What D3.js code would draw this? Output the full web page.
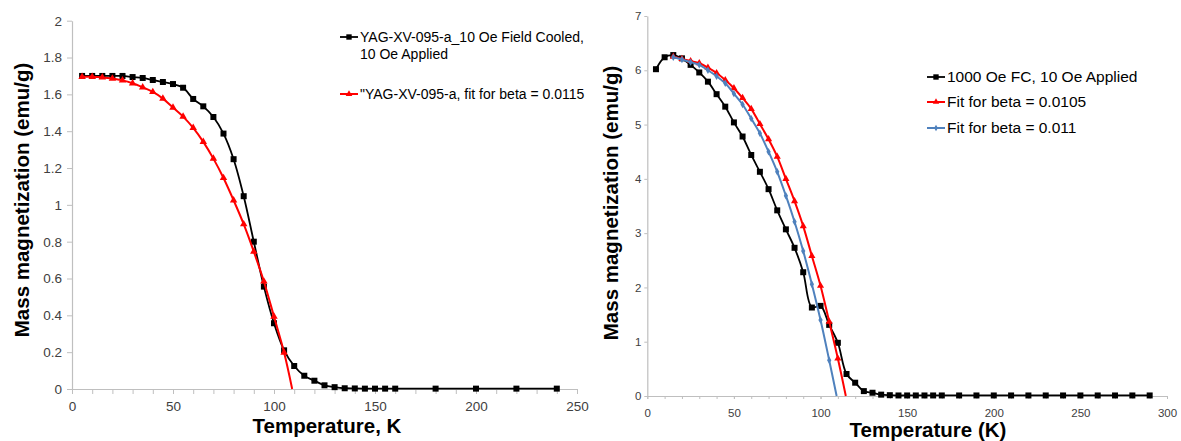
<!DOCTYPE html>
<html>
<head>
<meta charset="utf-8">
<script src="https://cdn.jsdelivr.net/npm/d3@7"></script>
<style>
  body { margin: 0; background: #fff; }
  svg { font-family: "Liberation Sans", Arial, sans-serif; }
</style>
</head>
<body>
<svg id="chart" width="1181" height="441"></svg>
<script>
// 左のグラフ：10 Oe FC の測定値
const leftTemps = [5, 10, 15, 20, 25, 30, 35, 40, 45, 50, 55, 60, 65, 70, 75, 80, 85, 90, 95, 100,
  105, 110, 115, 120, 125, 130, 135, 140, 145, 150, 155, 160, 180, 200, 220, 240];
const leftMeasured = [1.70, 1.70, 1.70, 1.70, 1.70, 1.694, 1.689, 1.678, 1.667, 1.656, 1.636, 1.575, 1.535, 1.477, 1.387, 1.248, 1.047, 0.80, 0.556, 0.357,
  0.21, 0.125, 0.072, 0.045, 0.02, 0.01, 0.004, 0.003, 0.002, 0.002, 0.002, 0.002, 0.002, 0.002, 0.002, 0.002];

// 左のグラフ：フィット (beta = 0.0115)
const leftFitTemps = [5, 10, 15, 20, 25, 30, 35, 40, 45, 50, 55, 60, 65, 70, 75, 80, 85, 90, 95, 100, 105];
const leftFit = [1.695, 1.695, 1.692, 1.686, 1.676, 1.66, 1.638, 1.613, 1.577, 1.528, 1.479, 1.418, 1.342, 1.251, 1.146, 1.025, 0.895, 0.746, 0.584, 0.393, 0.198];
const leftFitEnd = [109, 0];

// 右のグラフ：1000 Oe FC の測定値
const rightTemps = [5, 10, 15, 20, 25, 30, 35, 40, 45, 50, 55, 60, 65, 70, 75, 80, 85, 90, 95, 100,
  105, 110, 115, 120, 125, 130, 135, 140, 145, 150, 155, 160, 165, 170,
  180, 190, 200, 210, 220, 230, 240, 250, 260, 270, 280, 290];
const rightMeasured = [6.02, 6.24, 6.28, 6.22, 6.10, 5.96, 5.79, 5.56, 5.33, 5.04, 4.78, 4.44, 4.13, 3.81, 3.42, 3.07, 2.73, 2.28, 1.63, 1.66,
  1.31, 0.98, 0.405, 0.245, 0.09, 0.06, 0.025, 0.015, 0.01, 0.01, 0.01, 0.01, 0.01, 0.01,
  0.01, 0.01, 0.01, 0.01, 0.01, 0.01, 0.01, 0.01, 0.01, 0.01, 0.01, 0.01];

// 右のグラフ：フィット
const redFitTemps = [15, 20, 25, 30, 35, 40, 45, 50, 55, 60, 65, 70, 75, 80, 85, 90, 95, 100, 105, 110];
const redFit = [6.25, 6.21, 6.17, 6.13, 6.05, 5.95, 5.82, 5.67, 5.49, 5.29, 5.01, 4.73, 4.41, 4.00, 3.59, 3.13, 2.58, 2.03, 1.37, 0.69];
const redFitEnd = [114.6, 0];
const blueFitTemps = [15, 20, 25, 30, 35, 40, 45, 50, 55, 60, 65, 70, 75, 80, 85, 90, 95, 100, 105];
const blueFit = [6.24, 6.20, 6.15, 6.10, 6.00, 5.89, 5.76, 5.57, 5.37, 5.11, 4.84, 4.50, 4.13, 3.69, 3.21, 2.67, 2.06, 1.40, 0.66];
const blueFitEnd = [109.3, 0];

// 軸の目盛り
const leftYTicks = [0, 0.2, 0.4, 0.6, 0.8, 1, 1.2, 1.4, 1.6, 1.8, 2];
const leftXTicks = [0, 50, 100, 150, 200, 250];
const rightYTicks = [0, 1, 2, 3, 4, 5, 6, 7];
const rightXTicks = [0, 50, 100, 150, 200, 250, 300];
const minorStep = 10;

const svg = d3.select("#chart");
const axisColor = "#bfbfbf";

function zip(xs, ys) { return xs.map((x, i) => [x, ys[i]]); }

function drawPanel(opt) {
  const x = d3.scaleLinear().domain(opt.xDomain).range([opt.x0, opt.x1]);
  const y = d3.scaleLinear().domain(opt.yDomain).range([opt.y0, opt.y1]);
  const g = svg.append("g");

  // 副目盛り
  const minor = d3.range(opt.xDomain[0], opt.xDomain[1] + 0.01, minorStep);
  g.append("g")
    .attr("transform", `translate(0,${opt.y0})`)
    .call(d3.axisBottom(x).tickValues(minor).tickSize(opt.tick).tickFormat(""))
    .call(a => a.select(".domain").remove())
    .call(a => a.selectAll("line").attr("stroke", axisColor));

  // X軸
  g.append("g")
    .attr("transform", `translate(0,${opt.y0})`)
    .call(d3.axisBottom(x).tickValues(opt.xTicks).tickSize(opt.tick).tickSizeOuter(0).tickPadding(opt.xPad).tickFormat(d3.format("d")))
    .call(a => a.select(".domain").attr("stroke", axisColor).attr("stroke-width", 1.2))
    .call(a => a.selectAll("line").attr("stroke", axisColor))
    .call(a => a.selectAll("text").attr("fill", opt.labelColor).style("font-size", opt.tickFont + "px").style("font-family", "Liberation Sans, Arial"));

  // Y軸
  g.append("g")
    .attr("transform", `translate(${opt.x0},0)`)
    .call(d3.axisLeft(y).tickValues(opt.yTicks).tickSize(opt.tick).tickSizeOuter(0).tickPadding(opt.yPad).tickFormat(d => String(+d.toFixed(1))))
    .call(a => a.select(".domain").attr("stroke", axisColor).attr("stroke-width", 1.2))
    .call(a => a.selectAll("line").attr("stroke", axisColor))
    .call(a => a.selectAll("text").attr("fill", opt.labelColor).style("font-size", opt.tickFont + "px").style("font-family", "Liberation Sans, Arial"));

  // 軸タイトル
  g.append("text")
    .attr("transform", `translate(${opt.yTitleX},${opt.yTitleY}) rotate(-90)`)
    .attr("text-anchor", "middle")
    .attr("font-weight", "bold")
    .attr("font-size", 20.5)
    .text("Mass magnetization (emu/g)");
  g.append("text")
    .attr("x", opt.xTitleX).attr("y", opt.xTitleY)
    .attr("text-anchor", "middle")
    .attr("font-weight", "bold")
    .attr("font-size", 20.5)
    .text(opt.xTitle);

  const line = d3.line().x(d => x(d[0])).y(d => y(d[1])).curve(d3.curveCatmullRom.alpha(0.5));

  opt.series.forEach(s => {
    const pts = zip(s.t, s.v);
    const linePts = s.end ? pts.concat([s.end]) : pts;
    g.append("path")
      .attr("d", line(linePts))
      .attr("fill", "none")
      .attr("stroke", s.color)
      .attr("stroke-width", s.width);
    g.selectAll(null).data(pts).enter().append("path")
      .attr("transform", d => `translate(${x(d[0])},${y(d[1])})`)
      .attr("d", d3.symbol().type(s.symbol).size(s.size))
      .attr("fill", s.color);
  });

  // 凡例
  opt.legend.forEach(l => {
    const s = l.series;
    g.append("line")
      .attr("x1", l.x).attr("x2", l.x + 18)
      .attr("y1", l.y).attr("y2", l.y)
      .attr("stroke", s.color).attr("stroke-width", s.width);
    g.append("path")
      .attr("transform", `translate(${l.x + 9},${l.y})`)
      .attr("d", d3.symbol().type(s.symbol).size(s.size * 0.8))
      .attr("fill", s.color);
    l.lines.forEach((txt, i) => {
      g.append("text")
        .attr("x", l.x + 20).attr("y", l.y + i * l.lh)
        .attr("dy", "0.35em")
        .attr("font-size", l.font)
        .attr("fill", "#000")
        .text(txt);
    });
  });
}

const lBlack = { t: leftTemps, v: leftMeasured, color: "#000", width: 1.8, symbol: d3.symbolSquare, size: 36 };
const lRed = { t: leftFitTemps, v: leftFit, end: leftFitEnd, color: "#ff0000", width: 2, symbol: d3.symbolTriangle, size: 24 };

drawPanel({
  xDomain: [0, 250], yDomain: [0, 2],
  x0: 72, x1: 577, y0: 389, y1: 20.7,
  xTicks: leftXTicks, yTicks: leftYTicks,
  tick: 5, xPad: 7, yPad: 5, tickFont: 13.5, labelColor: "#404040",
  yTitleX: 29, yTitleY: 200, xTitleX: 327, xTitleY: 433, xTitle: "Temperature, K",
  series: [lBlack, lRed],
  legend: [
    { series: lBlack, x: 340, y: 37, lh: 17, font: 14, lines: ["YAG-XV-095-a_10 Oe Field Cooled,", "10 Oe Applied"] },
    { series: lRed, x: 340, y: 94, lh: 17, font: 14, lines: ["\"YAG-XV-095-a, fit for beta = 0.0115"] }
  ]
});

const rBlack = { t: rightTemps, v: rightMeasured, color: "#000", width: 1.8, symbol: d3.symbolSquare, size: 36 };
const rRed = { t: redFitTemps, v: redFit, end: redFitEnd, color: "#ff0000", width: 2, symbol: d3.symbolTriangle, size: 22 };
const rBlue = { t: blueFitTemps, v: blueFit, end: blueFitEnd, color: "#4f81bd", width: 2, symbol: d3.symbolDiamond, size: 16 };

drawPanel({
  xDomain: [0, 300], yDomain: [0, 7],
  x0: 647.3, x1: 1167, y0: 396, y1: 16,
  xTicks: rightXTicks, yTicks: rightYTicks,
  tick: 3, xPad: 10, yPad: 3, tickFont: 11.5, labelColor: "#404040",
  yTitleX: 618, yTitleY: 203, xTitleX: 928, xTitleY: 437, xTitle: "Temperature (K)",
  series: [rBlack, rRed, rBlue],
  legend: [
    { series: rBlack, x: 927, y: 77, lh: 17, font: 15.5, lines: ["1000 Oe FC, 10 Oe Applied"] },
    { series: rRed, x: 927, y: 102, lh: 17, font: 15.5, lines: ["Fit for beta = 0.0105"] },
    { series: rBlue, x: 927, y: 128, lh: 17, font: 15.5, lines: ["Fit for beta = 0.011"] }
  ]
});
</script>
</body>
</html>
